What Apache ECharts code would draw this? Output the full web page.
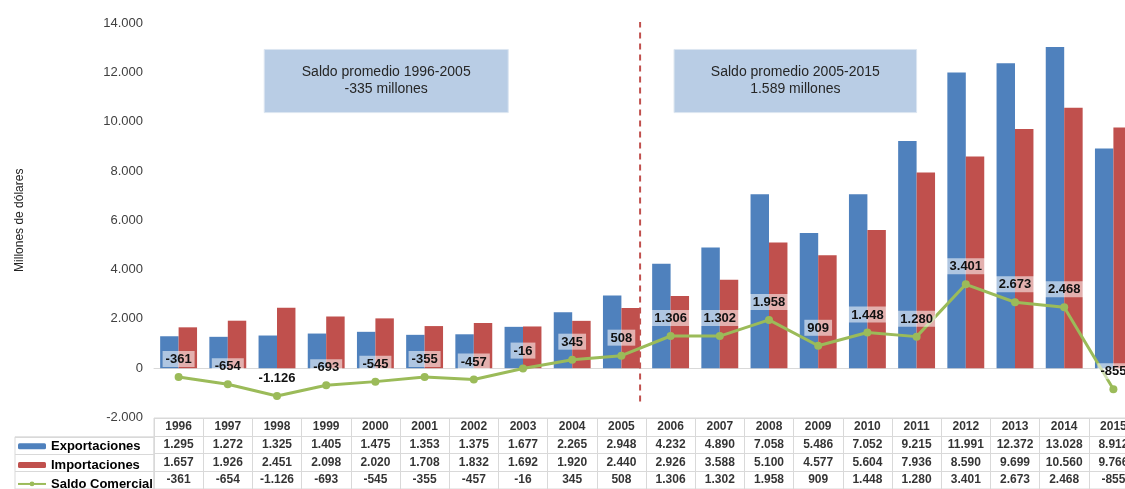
<!DOCTYPE html>
<html>
<head>
<meta charset="utf-8">
<script src="https://cdn.jsdelivr.net/npm/echarts@6/dist/echarts.min.js"></script>
<style>
html,body{margin:0;padding:0;background:#fff;overflow:hidden;width:1125px;height:489px;}
#c{width:1138px;height:489px;}
</style>
</head>
<body>
<div id="c"></div>
<script>
var years = ['1996','1997','1998','1999','2000','2001','2002','2003','2004','2005','2006','2007','2008','2009','2010','2011','2012','2013','2014','2015'];
var exportaciones = [1295,1272,1325,1405,1475,1353,1375,1677,2265,2948,4232,4890,7058,5486,7052,9215,11991,12372,13028,8912];
var importaciones = [1657,1926,2451,2098,2020,1708,1832,1692,1920,2440,2926,3588,5100,4577,5604,7936,8590,9699,10560,9766];
var saldo = [-361,-654,-1126,-693,-545,-355,-457,-16,345,508,1306,1302,1958,909,1448,1280,3401,2673,2468,-855];
var seriesNames = ['Exportaciones','Importaciones','Saldo Comercial'];
var tableRows = ['Año','Exportaciones','Importaciones','Saldo Comercial'];
var yTicks = {min:-2000, max:14000, interval:2000};
var notes = [
  {text:'Saldo promedio 1996-2005\n-335 millones', x0:2.24, x1:7.2, y0:10366, y1:12927},
  {text:'Saldo promedio 2005-2015\n1.589 millones', x0:10.57, x1:15.5, y0:10366, y1:12927}
];
var divider = {x:9.88, y0:-1500, y1:14060};

function fmt(v){
  var s = Math.abs(v).toString();
  var out = '';
  while (s.length > 3) { out = '.' + s.slice(-3) + out; s = s.slice(0, -3); }
  return (v < 0 ? '-' : '') + s + out;
}

var FONT = 'Liberation Sans, Arial, sans-serif';
var BLUE = '#4f81bd', RED = '#c0504d', GREEN = '#9bbb59', GRIDC = '#d9d9d9';

// table cells
var cells = [];
var rowsData = [years, exportaciones, importaciones, saldo];
for (var r = 0; r < rowsData.length; r++) {
  for (var i = 0; i < years.length; i++) {
    var v = rowsData[r][i];
    cells.push([i, r, r === 0 ? v : fmt(v)]);
  }
}

var chart = echarts.init(document.getElementById('c'));
chart.setOption({
  animation: false,
  backgroundColor: '#fff',
  textStyle: {fontFamily: FONT},
  legend: {
    orient: 'vertical', left: 17, top: 436.7, height: 70, padding: 0, itemGap: 0,
    itemWidth: 28, itemHeight: 6,
    data: seriesNames,
    textStyle: {fontSize: 13, fontWeight: 'bold', color: '#000', lineHeight: 18.9, fontFamily: FONT},
    selectedMode: false
  },
  grid: [
    {left: 154, right: 0, top: 23, height: 394.5},
    {left: 154, right: 0, top: 418, height: 75.2, show: true, borderColor: GRIDC, borderWidth: 1},
    {left: 15, width: 139, top: 436.8, height: 56.4, show: true, borderColor: GRIDC, borderWidth: 1}
  ],
  xAxis: [
    {type: 'category', gridIndex: 0, data: years, axisLabel: {show: false}, axisTick: {show: false},
     axisLine: {lineStyle: {color: GRIDC, width: 1}}},
    {type: 'value', gridIndex: 0, min: 0, max: 20, show: false},
    {type: 'category', gridIndex: 1, data: years, axisLabel: {show: false}, axisTick: {show: false},
     axisLine: {show: false}, splitLine: {show: true, interval: 0, lineStyle: {color: GRIDC, width: 1}}},
    {type: 'value', gridIndex: 2, min: 0, max: 1, show: false}
  ],
  yAxis: [
    {type: 'value', gridIndex: 0, min: yTicks.min, max: yTicks.max, interval: yTicks.interval,
     splitLine: {show: false}, axisLine: {show: false}, axisTick: {show: false},
     axisLabel: {formatter: fmt, fontSize: 13, color: '#404040', margin: 11, fontFamily: FONT},
     name: 'Millones de dólares', nameLocation: 'middle', nameRotate: 90, nameGap: 128,
     nameTextStyle: {fontSize: 12, color: '#222', fontFamily: FONT}},
    {type: 'category', gridIndex: 1, data: tableRows, inverse: true, axisLabel: {show: false},
     axisTick: {show: false}, axisLine: {show: false},
     splitLine: {show: true, interval: 0, lineStyle: {color: GRIDC, width: 1}}},
    {type: 'category', gridIndex: 2, data: tableRows.slice(1), inverse: true, axisLabel: {show: false},
     axisTick: {show: false}, axisLine: {show: false},
     splitLine: {show: true, interval: 0, lineStyle: {color: GRIDC, width: 1}}}
  ],
  series: [
    {name: seriesNames[0], type: 'bar', xAxisIndex: 0, yAxisIndex: 0, data: exportaciones,
     barGap: '0%', barCategoryGap: '25%', itemStyle: {color: BLUE}},
    {name: seriesNames[1], type: 'bar', xAxisIndex: 0, yAxisIndex: 0, data: importaciones,
     barGap: '0%', barCategoryGap: '25%', itemStyle: {color: RED}},
    {type: 'line', xAxisIndex: 1, yAxisIndex: 0, silent: true, z: 4,
     data: [[divider.x, divider.y1], [divider.x, divider.y0]], symbol: 'none',
     lineStyle: {color: '#c0504d', type: [6, 5], width: 2},
     markArea: {silent: true,
       itemStyle: {color: '#b9cde5', borderColor: '#dce6f1', borderWidth: 1},
       label: {show: true, position: 'inside', fontSize: 14, lineHeight: 17, color: '#262626', fontFamily: FONT},
       data: notes.map(function(n){ return [{coord: [n.x0, n.y1], name: n.text}, {coord: [n.x1, n.y0]}]; })}},
    {name: seriesNames[2], type: 'line', xAxisIndex: 0, yAxisIndex: 0, data: saldo, z: 5,
     symbol: 'circle', symbolSize: 8, lineStyle: {color: GREEN, width: 3}, itemStyle: {color: GREEN},
     label: {show: true, position: 'top', distance: 6, formatter: function(p){return fmt(p.value);},
       fontSize: 13, fontWeight: 'bold', color: '#111', fontFamily: FONT,
       backgroundColor: 'rgba(255,255,255,0.55)', padding: [2, 3, 1, 3]}},
    {type: 'scatter', xAxisIndex: 2, yAxisIndex: 1, symbolSize: 0, silent: true,
     data: cells,
     label: {show: true, position: 'inside', formatter: function(p){return p.value[2];},
       fontSize: 12, fontWeight: 'bold', color: '#000', fontFamily: FONT}}
  ]
});
</script>
</body>
</html>
